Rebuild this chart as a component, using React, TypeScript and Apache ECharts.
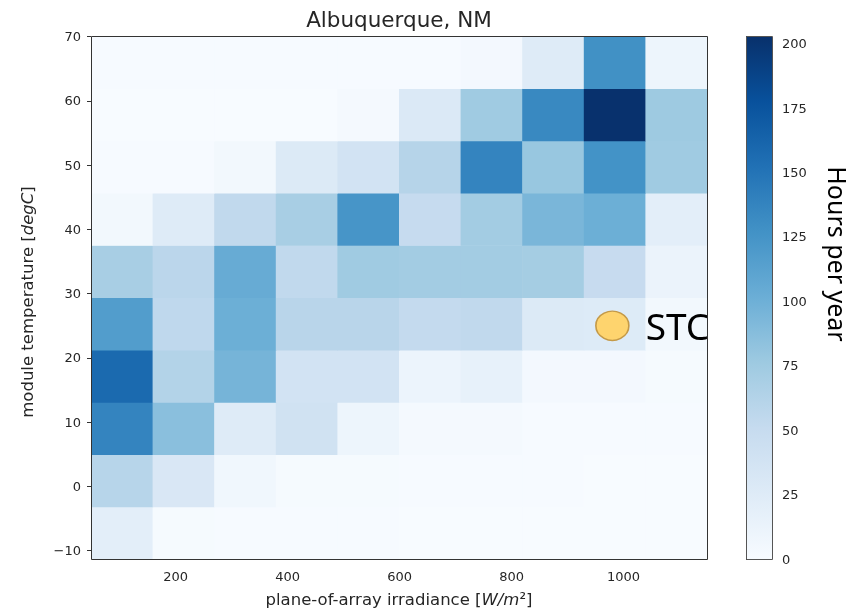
import { useEffect, useRef } from 'react';
import * as echarts from 'echarts';

// Bin edges
const irradianceEdges = [49, 159, 269, 379, 489, 599, 709, 819, 929, 1039, 1149];
const temperatureEdges = [-11.3, -3.16, 4.98, 13.12, 21.26, 29.4, 37.54, 45.68, 53.82, 61.96, 70.1];

// Hours per year, rows from lowest temperature bin to highest, columns by irradiance bin
const hoursPerYear = [
  [20, 2, 1, 1, 1, 0, 0, 0, 0, 0],
  [60, 31, 7, 2, 2, 1, 1, 1, 0, 0],
  [138, 86, 25, 40, 10, 3, 3, 1, 1, 1],
  [158, 63, 96, 38, 38, 11, 16, 4, 4, 2],
  [117, 55, 101, 59, 59, 52, 54, 27, 26, 5],
  [70, 58, 104, 54, 75, 73, 73, 72, 50, 12],
  [5, 25, 54, 70, 124, 51, 73, 94, 101, 20],
  [1, 1, 5, 27, 38, 61, 138, 79, 126, 75],
  [0, 0, 0, 0, 3, 29, 75, 134, 202, 76],
  [1, 1, 1, 1, 1, 1, 4, 25, 128, 10],
];

const irradianceTicks = [200, 400, 600, 800, 1000];
const temperatureTicks = [-10, 0, 10, 20, 30, 40, 50, 60, 70];
const colorbarTicks = [0, 25, 50, 75, 100, 125, 150, 175, 200];
const colorbarMax = 203;
const stcPoint = [980, 25];

const BLUES = ['#f7fbff', '#deebf7', '#c6dbef', '#9ecae1', '#6baed6', '#4292c6', '#2171b5', '#08519c', '#08306b'];

const TXT = '#262626';
const FONT = 'DejaVu Sans';

export default function App() {
  const ref = useRef<HTMLDivElement>(null);
  useEffect(() => {
    const chart = echarts.init(ref.current as HTMLDivElement, null, { renderer: 'svg' });
    const cells: number[][] = [];
    for (let r = 0; r < hoursPerYear.length; r++) {
      for (let c = 0; c < hoursPerYear[r].length; c++) {
        cells.push([irradianceEdges[c], irradianceEdges[c + 1], temperatureEdges[r], temperatureEdges[r + 1], hoursPerYear[r][c]]);
      }
    }
    const tickStyle = { show: true, length: 4, lineStyle: { color: '#333', width: 1 } };
    const labelStyle = { fontSize: 13, fontFamily: FONT, color: TXT };
    const fmt = (v: number) => String(v).replace('-', '\u2212');
    const option: any = {
      animation: false,
      grid: [
        { left: 91, top: 36, width: 616, height: 523 },
        { left: 746, top: 36, width: 26, height: 523 },
      ],
      xAxis: [
        {
          gridIndex: 0, type: 'value', min: irradianceEdges[0], max: irradianceEdges[irradianceEdges.length - 1],
          axisLine: { show: false }, splitLine: { show: false },
          axisTick: { ...tickStyle, customValues: irradianceTicks },
          axisLabel: { ...labelStyle, margin: 11, customValues: irradianceTicks, formatter: fmt },
        },
        { gridIndex: 1, type: 'value', min: 0, max: 1, show: false },
      ],
      yAxis: [
        {
          gridIndex: 0, type: 'value', min: temperatureEdges[0], max: temperatureEdges[temperatureEdges.length - 1],
          axisLine: { show: false }, splitLine: { show: false },
          axisTick: { ...tickStyle, customValues: temperatureTicks },
          axisLabel: { ...labelStyle, margin: 10, customValues: temperatureTicks, formatter: fmt },
        },
        {
          gridIndex: 1, type: 'value', position: 'right', min: 0, max: colorbarMax,
          axisLine: { show: false }, splitLine: { show: false },
          axisTick: { ...tickStyle, customValues: colorbarTicks },
          axisLabel: { ...labelStyle, margin: 10, customValues: colorbarTicks, formatter: fmt },
        },
      ],
      visualMap: [
        { type: 'continuous', show: false, min: 0, max: colorbarMax, dimension: 4, seriesIndex: 0, inRange: { color: BLUES } },
      ],
      series: [
        {
          type: 'custom', xAxisIndex: 0, yAxisIndex: 0, encode: { x: [0, 1], y: [2, 3] }, data: cells,
          renderItem: (_p: any, api: any) => {
            const p0 = api.coord([api.value(0), api.value(3)]);
            const p1 = api.coord([api.value(1), api.value(2)]);
            return {
              type: 'rect',
              shape: { x: p0[0], y: p0[1], width: p1[0] - p0[0] + 0.6, height: p1[1] - p0[1] + 0.6 },
              style: { fill: api.visual('color') },
            };
          },
        },
        {
          type: 'custom', xAxisIndex: 1, yAxisIndex: 1, encode: { x: [0, 1], y: [2, 3] }, data: [[0, 1, 0, colorbarMax]],
          renderItem: (_p: any, api: any) => {
            const p0 = api.coord([api.value(0), api.value(3)]);
            const p1 = api.coord([api.value(1), api.value(2)]);
            return {
              type: 'rect',
              shape: { x: p0[0], y: p0[1], width: p1[0] - p0[0], height: p1[1] - p0[1] },
              style: {
                fill: new echarts.graphic.LinearGradient(0, 1, 0, 0, BLUES.map((c, i) => ({ offset: i / (BLUES.length - 1), color: c }))),
              },
            };
          },
        },
        {
          type: 'scatter', xAxisIndex: 0, yAxisIndex: 0, data: [stcPoint], symbol: 'circle', symbolSize: [33, 29], z: 10,
          itemStyle: { color: '#fed46e', borderColor: '#c49a48', borderWidth: 1.5, opacity: 1 },
          label: { show: true, position: 'right', distance: 16, formatter: 'STC', fontSize: 37, fontFamily: 'Noto Sans', color: '#000' },
        },
      ],
      graphic: [
        { type: 'rect', z: 100, shape: { x: 708, y: 295, width: 37, height: 60 }, style: { fill: '#fff' } },
        { type: 'rect', z: 101, shape: { x: 91.5, y: 36.5, width: 616, height: 523 }, style: { fill: 'none', stroke: '#333', lineWidth: 1 } },
        { type: 'rect', z: 101, shape: { x: 746.5, y: 36.5, width: 26, height: 523 }, style: { fill: 'none', stroke: '#555', lineWidth: 1 } },
        {
          type: 'text', z: 101, x: 399, y: 19,
          style: { text: 'Albuquerque, NM', fontSize: 21.5, fontFamily: FONT, fill: TXT, align: 'center', verticalAlign: 'middle' },
        },
        {
          type: 'text', z: 101, x: 399, y: 599,
          style: {
            text: 'plane-of-array irradiance [{i|W/m}²]', fontSize: 16.5, fontFamily: FONT, fill: TXT, align: 'center', verticalAlign: 'middle',
            rich: { i: { fontStyle: 'italic', fontSize: 16.5, fontFamily: FONT, fill: TXT } },
          },
        },
        {
          type: 'text', z: 101, x: 27.5, y: 302, rotation: Math.PI / 2,
          style: {
            text: 'module temperature [{i|degC}]', fontSize: 16.5, fontFamily: FONT, fill: TXT, align: 'center', verticalAlign: 'middle',
            rich: { i: { fontStyle: 'italic', fontSize: 16.5, fontFamily: FONT, fill: TXT } },
          },
        },
        {
          type: 'text', z: 101, x: 838, y: 254, rotation: -Math.PI / 2,
          style: { text: 'Hours per year', fontSize: 25, fontFamily: 'Noto Sans', fill: '#000', align: 'center', verticalAlign: 'middle' },
        },
      ],
    };
    chart.setOption(option);
    return () => chart.dispose();
  }, []);
  return <div ref={ref} style={{ position: 'fixed', left: 0, top: 0, width: 863, height: 611 }} />;
}
